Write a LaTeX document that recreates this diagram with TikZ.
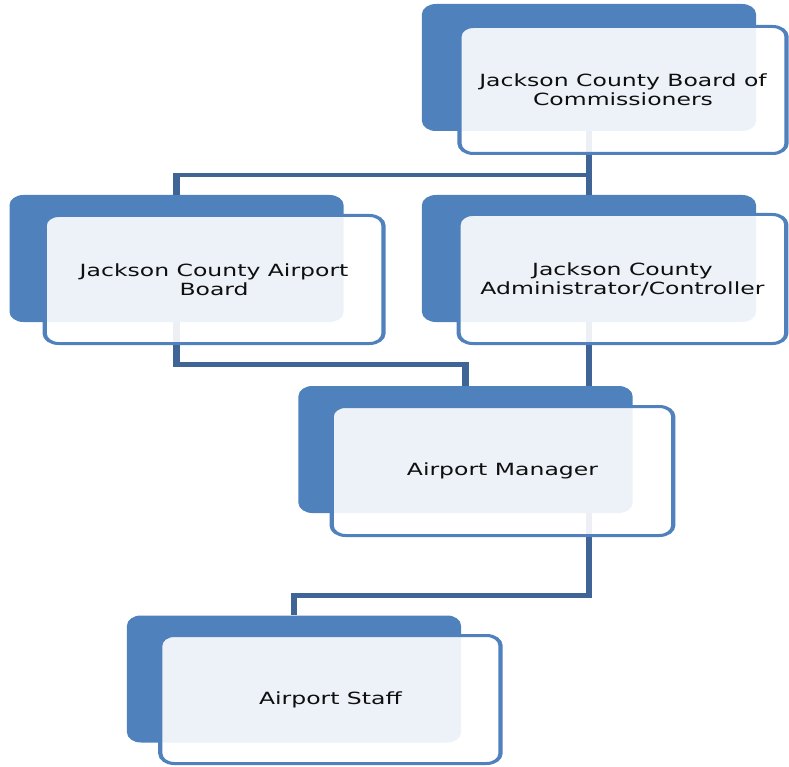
\documentclass[tikz,border=0pt]{standalone}
\usepackage{fontspec}
\newfontfamily\boxfont{DejaVu Sans}
\definecolor{darkblue}{RGB}{79,129,189}
\definecolor{connblue}{RGB}{63,101,150}
\definecolor{edgeblue}{RGB}{80,129,189}
\definecolor{textgray}{RGB}{15,15,15}
\begin{document}
\begin{tikzpicture}[x=1pt,y=-1pt,
  backbox/.style={rectangle, rounded corners=10pt, fill=darkblue, draw=none,
    inner sep=0pt, minimum width=238.6pt, minimum height=127pt},
  frontbox/.style={rectangle, rounded corners=10pt, draw=edgeblue, line width=3pt,
    fill=white, fill opacity=0.9, text opacity=1, draw opacity=1, inner sep=0pt,
    align=center, font=\boxfont\fontsize{16.8}{19}\selectfont, text=textgray},
  conn/.style={draw=connblue, line width=4.6pt}]
\useasboundingbox (0,0) rectangle (789,767);
\begin{scope}[transform canvas={xscale=1.4}]
  % back (dark) rectangles
  \node[backbox] (d1) at (420.7,67.5) {};
  \node[backbox] (d2) at (126.1,258.5) {};
  \node[backbox] (d3) at (420.7,258.5) {};
  \node[backbox] (d4) at (332.5,449.5) {};
  \node[backbox] (d5) at (210,679) {};
  % connectors
  \draw[conn] (d1.south) -- ++(0,44) coordinate (j1) -| (d2.north);
  \draw[conn] (j1) -- (d3.north);
  \draw[conn] (d2.south) -- ++(0,42) -| (d4.north);
  \draw[conn] (d3.south) -- (d3.south |- d4.north);
  \coordinate (m1) at (d3.south |- d4.south);
  \draw[conn] (m1) -- ++(0,82) -| (d5.north);
  % front boxes
  \node[frontbox, minimum width=233.6pt, minimum height=127pt] (b1) at (445,90)
    {Jackson County Board of\\Commissioners};
  \node[frontbox, minimum width=242pt, minimum height=128pt] (b2) at (152.9,279.5)
    {Jackson County Airport\\Board};
  \node[frontbox, minimum width=234pt, minimum height=129pt] (b3) at (444.6,279)
    {Jackson County\\Administrator/Controller};
  \node[frontbox, minimum width=244pt, minimum height=129pt] (b4) at (358.9,471)
    {Airport Manager};
  \node[frontbox, minimum width=243pt, minimum height=128pt] (b5) at (236,699.5)
    {Airport Staff};
\end{scope}
\end{tikzpicture}
\end{document}
